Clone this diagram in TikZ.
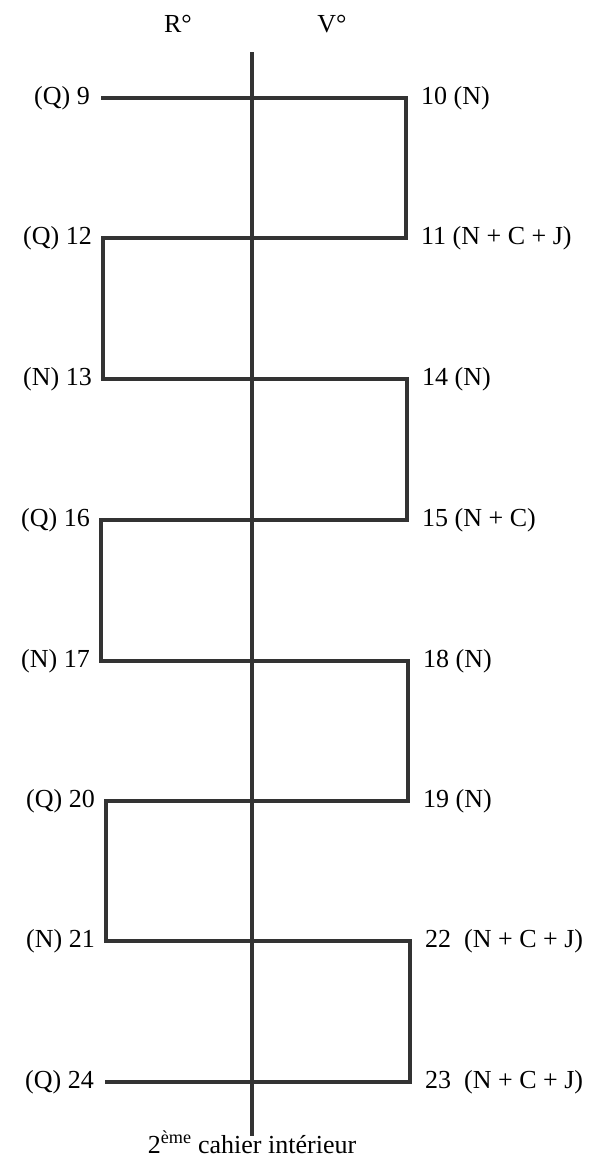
\documentclass[tikz,border=0pt]{standalone}
\usepackage{fontspec}
\setmainfont{Liberation Serif}
\tikzset{
  fold/.style={line width=3.6pt, black!80, line join=miter},
  spine/.style={line width=3.6pt, black!80},
  lab/.style={font=\fontsize{26}{30}\selectfont, inner sep=0pt},
  leftlab/.style={lab, anchor=east, xshift=-11pt},
  rightlab/.style={lab, anchor=west, xshift=15pt},
}
\begin{document}
\begin{tikzpicture}[x=1pt,y=-1pt]
\useasboundingbox (0,0) rectangle (610,1171);
% sheet corners
\coordinate (L9) at (101,98);   \coordinate (R10) at (406,98);
\coordinate (R11) at (406,238); \coordinate (L12) at (103,238);
\coordinate (L13) at (103,379); \coordinate (R14) at (407,379);
\coordinate (R15) at (407,520); \coordinate (L16) at (101,520);
\coordinate (L17) at (101,661); \coordinate (R18) at (408,661);
\coordinate (R19) at (408,801); \coordinate (L20) at (106,801);
\coordinate (L21) at (106,941); \coordinate (R22) at (410,941);
\coordinate (R23) at (410,1082); \coordinate (L24) at (105,1082);
\coordinate (top) at (252,52);
\coordinate (bot) at (252,1136);
% folded sheets
\draw[fold] (L9) -- (R10) -- (R11) -- (L12) -- (L13) -- (R14) -- (R15) -- (L16)
  -- (L17) -- (R18) -- (R19) -- (L20) -- (L21) -- (R22) -- (R23) -- (L24);
\draw[spine] (top) -- (bot);
% headings
\node[lab] (recto) at (178,24) {R°};
\node[lab] (verso) at (332,24) {V°};
% page labels
\node[leftlab] (p9) at (L9) {(Q) 9};
\node[leftlab] (p12) at (L12) {(Q) 12};
\node[leftlab] (p13) at (L13) {(N) 13};
\node[leftlab] (p16) at (L16) {(Q) 16};
\node[leftlab] (p17) at (L17) {(N) 17};
\node[leftlab] (p20) at (L20) {(Q) 20};
\node[leftlab] (p21) at (L21) {(N) 21};
\node[leftlab] (p24) at (L24) {(Q) 24};
\node[rightlab] (p10) at (R10) {10 (N)};
\node[rightlab] (p11) at (R11) {11 (N + C + J)};
\node[rightlab] (p14) at (R14) {14 (N)};
\node[rightlab] (p15) at (R15) {15 (N + C)};
\node[rightlab] (p18) at (R18) {18 (N)};
\node[rightlab] (p19) at (R19) {19 (N)};
\node[rightlab] (p22) at (R22) {22\enspace(N + C + J)};
\node[rightlab] (p23) at (R23) {23\enspace(N + C + J)};
\node[lab, anchor=base] (cahier) at (252,1153) {2\textsuperscript{ème} cahier intérieur};
\end{tikzpicture}
\end{document}
